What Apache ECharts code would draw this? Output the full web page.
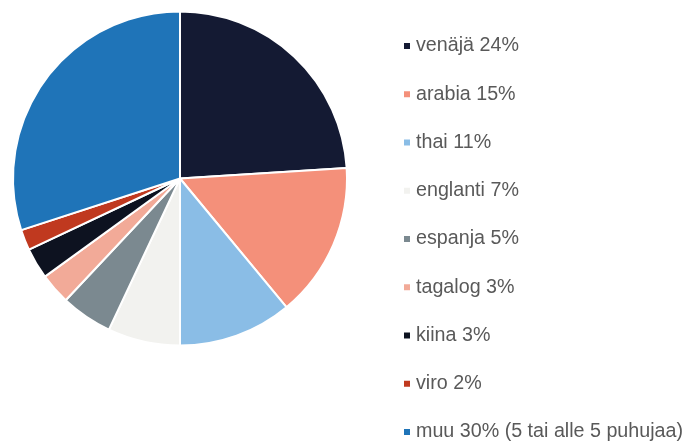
<!DOCTYPE html>
<html><head><meta charset="utf-8">
<script src="https://cdn.jsdelivr.net/npm/echarts@6/dist/echarts.min.js"></script>
<style>html,body{margin:0;padding:0;background:#fff}#c{width:686px;height:444px}</style>
</head><body><div id="c"></div>
<script>
const categories = ['venäjä','arabia','thai','englanti','espanja','tagalog','kiina','viro','muu'];
const values = [24,15,11,7,5,3,3,2,30];
const suffixes = ['','','','','','','','',' (5 tai alle 5 puhujaa)'];
const colors = ['#141a33','#f4907a','#8abde6','#f2f2ef','#7b8990','#f2aa98','#0d1220','#c0391f','#1f74b8'];

const chart = echarts.init(document.getElementById('c'));
chart.setOption({
  animation:false,
  color: colors,
  legend: {
    orient:'vertical', left:397, top:31, height:440,
    icon:'rect', itemWidth:8, itemHeight:8, itemGap:28.25,
    textStyle:{fontFamily:'Liberation Sans, Arial, sans-serif', fontSize:19.7, color:'#595959', lineHeight:20},
    formatter: function(name){ const i = categories.indexOf(name); return name + ' ' + values[i] + '%' + suffixes[i]; }
  },
  series:[{
    type:'pie', center:[180,178.5], radius:[0,167], startAngle:90, clockwise:true,
    label:{show:false}, labelLine:{show:false},
    itemStyle:{borderColor:'#fff', borderWidth:2},
    emphasis:{disabled:true},
    data: categories.map((n,i)=>({name:n, value:values[i]}))
  }]
});
</script></body></html>
